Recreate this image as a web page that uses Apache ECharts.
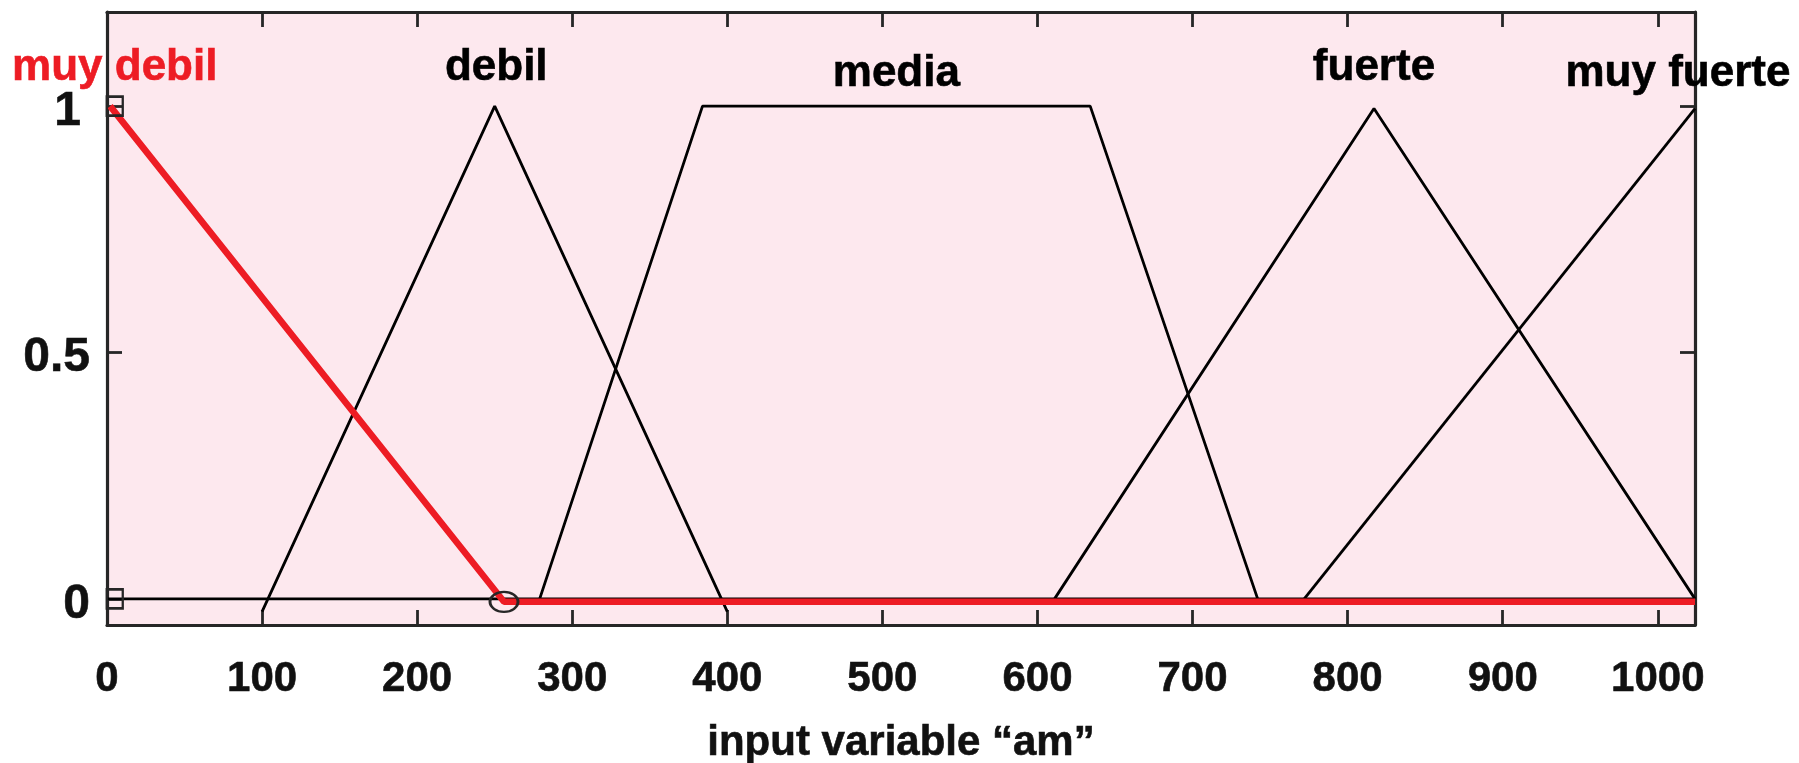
<!DOCTYPE html>
<html>
<head>
<meta charset="utf-8">
<script src="https://cdn.jsdelivr.net/npm/echarts@6/dist/echarts.min.js"></script>
<style>
html,body{margin:0;padding:0;background:#fff;}
#chart{width:1799px;height:763px;}
</style>
</head>
<body>
<div id="chart"></div>
<script>
// ---- data ----
const xRange = [0, 1024];
const yRange = [-0.053, 1.191];
const xTicks = [0, 100, 200, 300, 400, 500, 600, 700, 800, 900, 1000];
const yTicks = [0, 0.5, 1];
const xName = 'input variable \u201cam\u201d';

const baseline  = [[0, 0], [1024, 0]];
const muyDebil  = [[2, 1], [256, -0.006], [1024, -0.006]];
const debil     = [[100, -0.026], [250, 1], [400, -0.026]];
const media     = [[279, 0], [384, 1], [634, 1], [742, 0]];
const fuerte    = [[611, 0], [817, 0.995], [1024, 0]];
const muyFuerte = [[772, 0], [1024, 0.995]];

const squareHandles = [[5, 1], [5, 0]];
const circleHandles = [[256, -0.006]];

const mfNames  = ['muy debil', 'debil', 'media', 'fuerte', 'muy fuerte'];
const mfLabelX = [5, 251, 509, 817, 1013];
const mfLabelY = [1.077, 1.077, 1.065, 1.077, 1.065];

// ---- styles ----
const FONT = "'Liberation Sans', Arial, Helvetica, sans-serif";
const RED = '#ED1C24';
const AX = '#262626';
const TXT = '#111111';

const chart = echarts.init(document.getElementById('chart'), null, {renderer: 'canvas'});

function blackLine(data, name) {
  return {
    type: 'line', name: name, data: data, symbol: 'none', silent: true,
    lineStyle: {color: '#000', width: 2.8}, z: 3
  };
}

function tickStyle(vals) {
  return {show: true, inside: true, length: 15, lineStyle: {color: AX, width: 2.8}, customValues: vals};
}
const axLine = {show: true, onZero: false, lineStyle: {color: AX, width: 3.2}};
const heavy = {textBorderColor: TXT, textBorderWidth: 0.6};

const option = {
  animation: false,
  backgroundColor: '#ffffff',
  grid: {
    left: 107, right: 104, top: 12, bottom: 138,
    containLabel: false, outerBoundsMode: 'none',
    show: true, backgroundColor: '#FDE8EE', borderWidth: 0
  },
  xAxis: [
    {
      type: 'value', min: xRange[0], max: xRange[1], position: 'bottom',
      axisLine: axLine, splitLine: {show: false},
      name: xName, nameLocation: 'middle', nameGap: 97,
      nameTextStyle: Object.assign({fontFamily: FONT, fontWeight: 'bold', fontSize: 42, color: TXT}, heavy),
      axisTick: tickStyle(xTicks),
      axisLabel: Object.assign({show: true, customValues: xTicks, margin: 33, formatter: v => String(v),
                  fontFamily: FONT, fontWeight: 'bold', fontSize: 42, color: TXT}, heavy)
    },
    {
      type: 'value', min: xRange[0], max: xRange[1], position: 'top',
      axisLine: axLine, splitLine: {show: false},
      axisTick: tickStyle(xTicks),
      axisLabel: {show: false}
    }
  ],
  yAxis: [
    {
      type: 'value', min: yRange[0], max: yRange[1], position: 'left',
      axisLine: axLine, splitLine: {show: false},
      axisTick: tickStyle(yTicks),
      axisLabel: Object.assign({show: true, customValues: yTicks, margin: 17,
                  fontFamily: FONT, fontWeight: 'bold', fontSize: 48, color: TXT,
                  padding: [11, 0, 0, 0],
                  formatter: v => (v === 1 ? '{one|1}' : String(v)),
                  rich: {one: Object.assign({fontFamily: FONT, fontWeight: 'bold', fontSize: 48, color: TXT,
                               padding: [0, 9, 0, 0]}, heavy)}}, heavy)
    },
    {
      type: 'value', min: yRange[0], max: yRange[1], position: 'right',
      axisLine: axLine, splitLine: {show: false},
      axisTick: tickStyle(yTicks),
      axisLabel: {show: false}
    }
  ],
  series: [
    blackLine(baseline, 'base'),
    blackLine(debil, 'debil'),
    blackLine(media, 'media'),
    blackLine(fuerte, 'fuerte'),
    blackLine(muyFuerte, 'muy fuerte'),
    {
      type: 'line', name: 'muy debil', data: muyDebil, symbol: 'none', silent: true,
      lineStyle: {color: RED, width: 6.5}, z: 4
    },
    {
      type: 'scatter', data: squareHandles, symbol: 'rect', symbolSize: [16, 19],
      itemStyle: {color: 'rgba(0,0,0,0)', borderColor: AX, borderWidth: 2.5, opacity: 1},
      z: 6, silent: true, clip: false
    },
    {
      type: 'scatter', data: circleHandles, symbol: 'circle', symbolSize: [28, 20],
      itemStyle: {color: 'rgba(0,0,0,0)', borderColor: AX, borderWidth: 2.5, opacity: 1},
      z: 6, silent: true, clip: false
    },
    {
      type: 'scatter', silent: true, symbolSize: 0, clip: false, z: 7,
      itemStyle: {opacity: 1},
      data: mfNames.map((n, i) => ({
        value: [mfLabelX[i], mfLabelY[i]], name: n,
        label: {color: i === 0 ? RED : '#000', textBorderColor: i === 0 ? RED : '#000'}
      })),
      label: {
        show: true, position: 'inside', formatter: p => p.name,
        textBorderWidth: 0.6, opacity: 1,
        fontFamily: FONT, fontWeight: 'bold', fontSize: 44
      }
    }
  ]
};
chart.setOption(option);
</script>
</body>
</html>
